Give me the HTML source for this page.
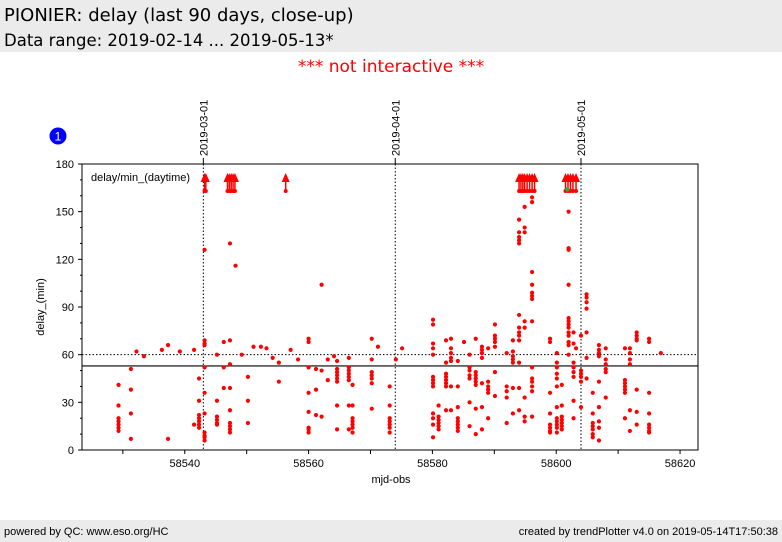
<!DOCTYPE html>
<html><head><meta charset="utf-8"><style>
body{margin:0;width:782px;height:542px;background:#fff;font-family:"Liberation Sans","DejaVu Sans",sans-serif;position:relative;overflow:hidden}
.hdr{position:absolute;left:0;top:0;width:782px;height:52px;background:#ebebeb}
.t1{position:absolute;left:4px;top:5px;font-size:18px;color:#000;font-family:"DejaVu Sans",sans-serif}
.t2{position:absolute;left:4px;top:31px;font-size:16.5px;color:#000;font-family:"DejaVu Sans",sans-serif}
.ni{position:absolute;left:0;width:782px;top:57px;text-align:center;color:#f00;font-size:17px;font-family:"DejaVu Sans",sans-serif}
.ftr{position:absolute;left:0;top:520px;width:782px;height:22px;background:#ebebeb;font-size:11px}
</style></head><body>
<div class="hdr">
<div class="t1">PIONIER: delay (last 90 days, close-up)</div>
<div class="t2">Data range: 2019-02-14 ... 2019-05-13*</div>
</div>
<div class="ni">*** not interactive ***</div>
<svg id="chart" width="782" height="542" style="position:absolute;left:0;top:0" font-family="Liberation Sans, DejaVu Sans, sans-serif"></svg>
<div class="ftr">
<span style="position:absolute;left:4px;top:6px">powered by QC: www.eso.org/HC</span>
<span style="position:absolute;right:4px;top:6px">created by trendPlotter v4.0 on 2019-05-14T17:50:38</span>
</div>
<script>
const xTicks=[58540,58560,58580,58600,58620];
const yTicks=[0,30,60,90,120,150,180];
const dateLines=[58543,58574,58604];
const dateLabels=["2019-03-01","2019-04-01","2019-05-01"];
const refLevel=60, medianLevel=52.9;
const arrowDays=[58543.2,58543.4,58546.9,58547.2,58547.5,58547.8,58548.1,58556.3,58594.0,58594.3,58594.6,58594.9,58595.3,58595.7,58596.1,58596.5,58601.5,58601.9,58602.3,58602.7,58603.2];
const greenDays=[58601.8];const greenVals=[164];
const obsDays=[58529.3,58531.3,58532.2,58533.4,58536.3,58537.3,58539.2,58541.5,58542.3,58543.2,58545.2,58546.3,58547.3,58548.2,58549.2,58550.2,58551.1,58552.3,58553.2,58554.2,58555.2,58557.1,58558.3,58560.0,58561.2,58562.1,58563.1,58564.1,58564.6,58566.5,58567.1,58570.2,58571.2,58573.1,58574.1,58575.1,
58580.1,58581.0,58582.2,58583.0,58584.1,58585.1,58586.0,58587.0,58588.0,58589.0,58590.1,58592.0,58593.0,58594.0,58594.9,58596.1,58599.0,58600.1,58600.9,58602.0,58602.8,58603.2,58604.0,58604.9,58605.9,58606.9,58608.0,58611.1,58611.9,58613.0,58615.0,58616.9];
const obsDelays=[[41,28,20,18,16,14,12],[51,38,23,7],[62],[59],[63],[66,7],[62],[63,16],[45,31,22,20,18,16,14],[126,69,67,66,52,36,23,11,9,8,6],[60,31,21,19,17,16],[68,52,39],[130,69,54,39,25,17,15,13,11],[116],[60],[46,31,17],[65],[65],[64],[58],[55,43],[63],[57],[70,68,52,36,24,14,13,11],[51,38,22],[104,50,21],[57,44],[59],[56,51,49,47,45,43,28,13],[58,52,50,48,46,44,28,13],[41,28,20,18,16,14,11],[70,57,49,47,45,42,26],[65],[40,28,20,18,16,14,11],[57],[64],
[82,79,67,64,60,46,44,42,40,23,20,16,8],[28,21,19,17,15,13],[69,55,48,46,44,42,40,25],[70,64,61,58,56,40,25],[56,40,27,20,18,16,14,12],[68],[60,52,50,47,45,30,15],[70,49,47,45,43,41,26,10],[65,63,61,58,42,27,13],[64,43,40,38,36,20],[79,72,70,68,65,49,34],[61,40,37,33,17],[69,62,59,57,55,39,23],[145,137,134,132,130,85,77,74,72,69,55,39,25],[153,140,137,81,77,33,21,18],[159,156,112,104,99,97,95,81,52,45,43,40,37,21],[70,68,36,23,16,14,12,11],[61,55,52,48,45,40,27,20,18,16,14,11],[41,28,21,19,17,15,13],[150,127,126,104,83,81,79,77,74,72,68,66,60],[74,67,55,52,49,46,31,20],[64],[72,50,48,46,43,27],[98,96,93,89,74,58,45],[36,23,17,15,13,10,8],[66,63,61,59,43,27,18,14,6],[64,57,54,51,49,33],[64,44,42,40,38,36,20],[64,61,57,54,25,12],[74,72,70,69,38,24,16],[70,68,36,23,16,14,12,11],[61]];
const svg=document.getElementById('chart');const NS='http://www.w3.org/2000/svg';
const L=82,R=698,T=164,B=450,X0=58523.4,X1=58622.9;
const xs=d=>L+(d-X0)/(X1-X0)*(R-L);const ys=v=>B-v/180*(B-T);
function mk(tag,at,txt){const e=document.createElementNS(NS,tag);for(const k in at)e.setAttribute(k,at[k]);if(txt!==undefined)e.textContent=txt;svg.appendChild(e);return e;}
let e;
e=mk('rect',{x:L,y:T,width:R-L,height:B-T,fill:'#fff',stroke:'#000','stroke-width':1});


xTicks.forEach(t=>{e=mk('text',{x:xs(t),y:467,'font-size':11,'text-anchor':'middle'},t);

});
for(let t=58530;t<=58620;t+=10){mk('line',{x1:xs(t),x2:xs(t),y1:B,y2:B+4,stroke:'#000'});}
yTicks.forEach(t=>{mk('line',{x1:L-4,x2:L,y1:ys(t),y2:ys(t),stroke:'#000'});
e=mk('text',{x:L-8,y:ys(t)+4,'font-size':11,'text-anchor':'end'},t);

});
for(let t=10;t<180;t+=10){if(t%30)mk('line',{x1:L-2,x2:L,y1:ys(t),y2:ys(t),stroke:'#000'});}
e=mk('text',{x:391,y:483,'font-size':11,'text-anchor':'middle'},'mjd-obs');


e=mk('text',{x:44,y:307,'font-size':11,'text-anchor':'middle',transform:'rotate(-90 44 307)'},'delay_(min)');


e=mk('text',{x:91,y:181,'font-size':11},'delay/min_(daytime)');


dateLines.forEach((d,i)=>{e=mk('line',{x1:xs(d),x2:xs(d),y1:T,y2:B,stroke:'#000','stroke-dasharray':'1.5,2'});


e=mk('text',{x:xs(d)+4,y:156,'font-size':11,transform:`rotate(-90 ${xs(d)+4} 156)`},dateLabels[i]);


mk('line',{x1:xs(d),x2:xs(d),y1:158,y2:T,stroke:'#000'});});
e=mk('line',{x1:L,x2:R,y1:ys(refLevel),y2:ys(refLevel),stroke:'#000','stroke-dasharray':'1.5,2'});


e=mk('line',{x1:L,x2:R,y1:ys(medianLevel),y2:ys(medianLevel),stroke:'#000','stroke-width':1.2});


obsDays.forEach((d,i)=>obsDelays[i].forEach(v=>{e=mk('circle',{cx:xs(d),cy:ys(v),r:2.1,fill:'#f00'});

}));
arrowDays.forEach(d=>{const x=xs(d);
mk('line',{x1:x,x2:x,y1:ys(163),y2:180,stroke:'#f00','stroke-width':1.5});
e=mk('polygon',{points:`${x-4},${182} ${x+4},${182} ${x},${173}`,fill:'#f00'});


mk('circle',{cx:x,cy:ys(163),r:2,fill:'#f00'});});
greenDays.forEach((d,i)=>{e=mk('circle',{cx:xs(d),cy:ys(greenVals[i]),r:2.2,fill:'#3a3'});

});
e=mk('circle',{cx:58,cy:136,r:8.5,fill:'#00f'});


mk('text',{x:58,y:140.5,'font-size':12,fill:'#fff','text-anchor':'middle'},'1');
</script>
</body></html>
